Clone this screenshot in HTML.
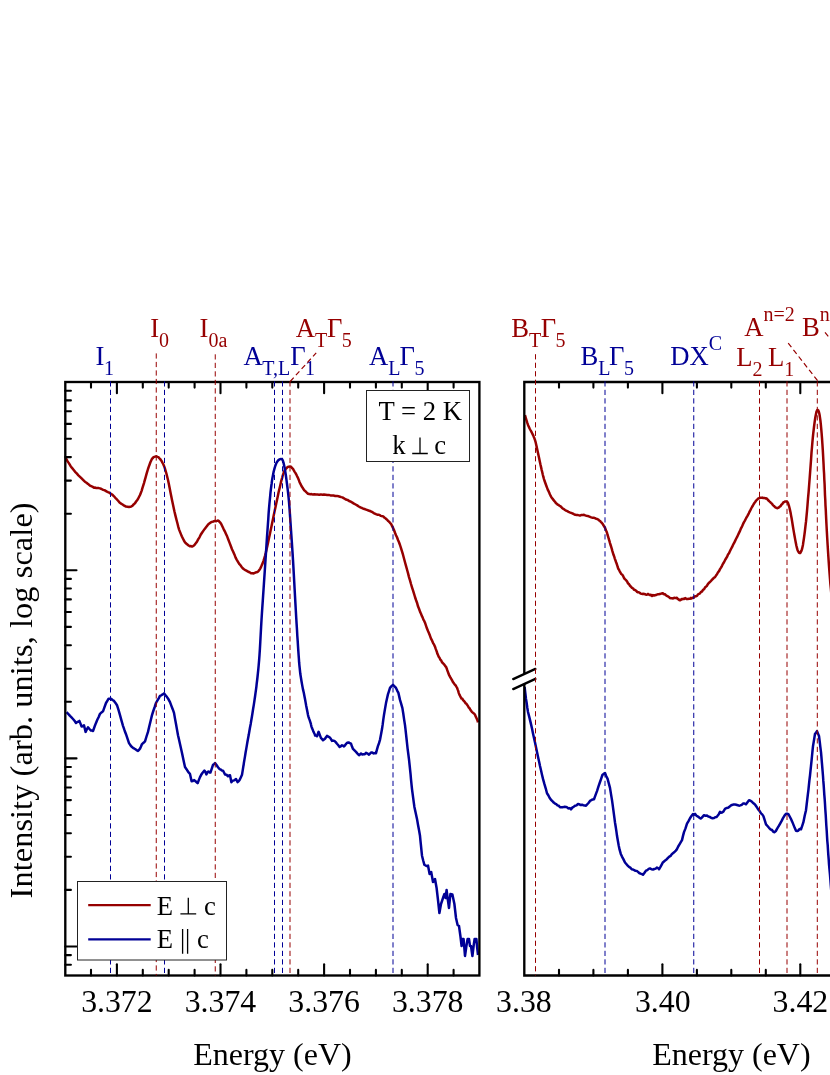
<!DOCTYPE html>
<html><head><meta charset="utf-8"><title>PL spectra</title>
<style>html,body{margin:0;padding:0;background:#fff;}svg{display:block;will-change:transform;}text{font-family:"Liberation Serif",serif;}</style></head><body>
<svg width="830" height="1075" viewBox="0 0 830 1075">
<rect width="830" height="1075" fill="#fff"/>
<g fill="none" stroke-width="2.5" stroke-linejoin="round" stroke-linecap="butt">
<polyline stroke="#960000" points="65.6,457.9 66.4,459.2 67.6,461.4 69.0,463.4 70.5,465.9 72.0,467.9 73.5,469.7 75.1,471.8 76.7,473.4 78.4,475.3 80.0,476.8 81.6,478.4 83.3,480.1 84.9,481.7 86.5,482.7 88.0,483.9 89.3,485.0 90.5,485.9 91.7,486.4 92.8,486.9 94.0,487.7 95.2,487.5 96.3,488.1 97.5,487.9 98.7,488.1 100.0,488.4 101.5,489.0 103.2,489.9 104.8,490.3 106.5,491.3 108.0,492.1 109.3,492.7 110.5,493.6 111.6,494.2 112.8,495.1 114.0,496.3 115.3,497.8 116.7,499.2 118.1,500.8 119.5,502.4 121.0,503.6 122.6,504.5 124.2,505.7 125.9,506.5 127.5,506.7 129.0,507.0 130.3,506.8 131.6,506.3 132.8,505.4 133.9,504.1 135.0,503.2 136.1,501.5 137.1,500.2 138.1,498.8 139.1,496.8 140.0,495.0 140.9,492.7 141.7,490.6 142.4,488.2 143.2,485.6 144.0,483.1 144.8,480.2 145.6,477.4 146.4,474.4 147.2,471.6 148.0,469.0 148.8,466.7 149.6,464.5 150.4,462.3 151.2,460.5 152.0,458.8 152.8,458.0 153.6,457.2 154.4,456.9 155.2,456.6 156.0,456.3 156.8,456.5 157.6,456.9 158.4,457.2 159.2,458.1 160.0,458.9 160.8,459.9 161.6,461.0 162.4,462.6 163.2,464.0 164.0,465.9 164.8,468.2 165.6,470.9 166.4,473.5 167.2,476.7 168.0,480.0 168.8,483.7 169.6,487.7 170.4,491.9 171.2,496.0 172.0,500.0 172.8,503.8 173.6,507.6 174.4,511.3 175.2,514.6 176.0,517.9 176.8,521.0 177.6,524.0 178.3,526.9 179.1,529.6 180.0,531.9 180.9,534.1 181.9,536.5 182.9,538.5 183.9,540.5 185.0,542.3 186.2,543.5 187.4,544.5 188.6,545.5 189.8,546.2 191.0,546.1 192.0,546.6 193.0,546.1 194.0,545.4 195.0,544.4 196.0,542.9 197.1,541.4 198.3,539.2 199.5,537.3 200.7,534.8 202.0,532.8 203.3,530.9 204.7,528.9 206.2,527.0 207.6,525.2 209.0,523.7 210.4,522.7 211.9,521.9 213.4,521.5 214.8,520.9 216.0,521.2 217.0,520.9 217.7,520.5 218.4,520.7 219.1,521.3 220.0,522.3 221.1,523.8 222.3,526.3 223.5,528.8 224.8,531.3 226.0,534.0 227.2,536.6 228.4,539.7 229.6,542.9 230.8,546.0 232.0,549.2 233.2,551.7 234.4,554.4 235.6,557.6 236.8,559.8 238.0,561.8 239.2,563.9 240.4,565.1 241.5,566.7 242.7,568.2 244.0,569.3 245.4,570.2 246.8,570.9 248.2,571.8 249.6,572.3 251.0,573.2 252.3,573.2 253.6,573.4 254.8,572.8 255.9,572.3 257.0,572.2 257.9,571.7 258.7,570.8 259.5,569.8 260.2,568.6 261.0,567.1 261.8,565.1 262.6,563.4 263.4,561.1 264.2,558.5 265.0,555.8 265.8,552.8 266.6,549.3 267.4,545.7 268.2,541.9 269.0,538.0 269.8,534.4 270.6,530.6 271.4,526.8 272.2,522.8 273.0,518.9 273.8,515.1 274.6,511.3 275.4,507.4 276.2,503.8 277.0,500.1 277.8,496.3 278.6,492.3 279.5,488.6 280.3,485.2 281.0,481.9 281.7,479.4 282.3,477.3 282.8,475.3 283.4,473.6 284.0,472.0 284.6,470.6 285.2,469.8 285.8,468.8 286.4,468.3 287.0,467.8 287.6,467.1 288.2,466.7 288.8,466.8 289.4,466.6 290.0,466.4 290.6,466.6 291.2,466.9 291.7,467.7 292.3,468.3 293.0,468.9 293.7,470.2 294.5,471.6 295.4,472.9 296.2,474.3 297.0,476.0 297.8,477.6 298.6,479.4 299.4,481.7 300.2,483.4 301.0,485.0 301.8,486.6 302.6,487.7 303.4,489.1 304.2,490.2 305.0,490.9 305.8,491.7 306.5,492.4 307.2,493.0 308.0,493.7 309.0,493.9 310.2,494.2 311.5,494.1 313.0,494.6 314.5,494.3 316.0,494.4 317.5,494.5 319.1,494.7 320.8,494.4 322.4,494.8 324.0,494.6 325.6,494.8 327.2,495.0 328.8,494.9 330.4,495.4 332.0,495.4 333.6,495.5 335.3,496.1 336.9,495.9 338.5,496.3 340.0,496.7 341.3,497.1 342.4,497.4 343.6,498.1 344.7,498.8 346.0,499.6 347.5,499.9 349.1,501.0 350.7,501.7 352.4,502.6 354.0,503.7 355.6,504.5 357.2,505.4 358.8,506.5 360.4,507.4 362.0,508.0 363.6,508.8 365.3,509.3 366.9,509.9 368.5,510.5 370.0,511.0 371.3,511.6 372.5,512.2 373.7,513.1 374.8,513.6 376.0,514.2 377.2,514.7 378.5,514.7 379.7,515.2 380.9,515.8 382.0,516.2 382.9,516.3 383.7,516.8 384.4,517.6 385.2,518.0 386.0,518.9 386.9,519.5 387.9,520.7 389.0,521.6 390.0,522.8 391.0,523.8 392.0,525.9 393.0,527.9 394.0,530.0 395.0,532.7 396.0,535.2 397.0,537.3 398.0,540.0 399.0,542.3 400.0,545.0 401.0,548.2 402.0,551.4 403.0,554.7 404.0,558.5 405.0,562.3 406.0,565.9 407.0,569.5 408.0,573.2 409.0,577.1 410.0,580.3 411.0,584.0 412.0,587.3 413.0,590.4 414.0,593.7 415.0,597.0 416.0,600.0 417.0,602.7 418.0,606.3 419.1,609.0 420.1,611.9 421.0,613.7 421.8,615.9 422.6,617.4 423.4,619.6 424.2,620.9 425.0,622.7 425.9,625.3 426.9,628.3 428.0,631.0 429.0,633.3 430.0,635.8 431.0,638.7 432.1,640.7 433.1,643.1 434.1,644.7 435.0,646.7 435.7,648.9 436.3,650.4 436.8,651.7 437.4,653.8 438.0,655.1 438.7,656.7 439.5,657.7 440.4,659.7 441.2,660.4 442.0,662.3 442.8,663.0 443.6,663.9 444.5,664.9 445.3,666.2 446.0,666.8 446.6,668.2 447.2,670.0 447.8,671.6 448.4,673.2 449.0,674.8 449.7,676.1 450.5,677.7 451.4,679.2 452.2,680.5 453.0,682.2 453.8,683.1 454.6,684.4 455.5,685.2 456.3,686.6 457.0,687.6 457.6,689.4 458.2,690.9 458.8,693.1 459.4,694.6 460.0,695.8 460.7,697.2 461.5,698.6 462.4,698.8 463.2,700.3 464.0,700.9 464.8,702.0 465.6,703.2 466.4,703.8 467.2,704.9 468.0,706.2 468.8,707.6 469.6,708.3 470.5,710.0 471.3,711.1 472.0,712.1 472.7,712.6 473.3,713.1 473.8,713.3 474.4,713.9 475.0,714.7 475.6,716.4 476.3,717.7 477.0,719.3 477.6,720.7 478.0,722.4"/>
<polyline stroke="#000096" points="66.6,712.2 67.7,713.4 68.9,714.6 70.0,715.9 71.5,717.4 73.0,719.0 74.5,720.8 76.0,723.0 77.1,722.1 78.3,721.7 79.4,720.9 80.5,723.6 81.6,726.5 82.8,726.3 84.0,725.3 85.6,731.9 86.8,729.4 88.0,727.3 89.5,729.0 91.0,730.6 92.0,730.6 93.0,731.0 94.5,726.8 96.0,722.9 97.3,719.8 98.7,717.0 100.0,713.8 101.5,712.4 103.0,711.3 104.5,707.1 106.0,703.0 107.3,700.8 108.6,698.7 109.8,698.7 111.0,698.7 112.5,700.0 114.0,700.9 115.5,702.9 117.0,705.2 118.5,709.9 120.0,715.1 121.5,720.6 123.0,725.8 124.5,730.2 126.0,734.2 127.5,738.6 129.0,743.1 130.5,745.4 132.0,747.1 133.5,748.2 135.0,749.0 136.5,750.1 138.0,750.9 139.0,749.8 140.0,748.7 141.0,746.5 142.0,744.1 143.5,742.8 145.0,741.3 146.5,736.5 148.0,731.9 149.3,726.3 150.7,720.5 152.0,715.1 153.3,711.0 154.7,707.0 156.0,703.0 157.3,700.7 158.7,698.3 160.0,695.8 161.3,695.3 162.7,694.4 164.0,693.4 165.5,695.2 167.0,697.1 168.5,699.3 170.0,702.1 171.3,705.6 172.7,709.2 174.0,712.9 175.0,718.6 176.0,723.9 177.0,729.6 178.0,735.2 179.0,739.5 180.0,744.0 181.0,748.5 182.0,753.1 183.0,757.8 184.0,762.4 185.0,767.1 186.5,769.2 188.0,771.7 189.0,772.8 190.0,774.1 191.6,781.3 192.8,781.1 194.0,780.1 195.2,781.0 196.4,782.0 197.6,783.2 198.8,780.1 200.0,777.1 201.2,774.8 202.4,773.0 203.4,771.8 204.4,770.6 205.4,772.0 206.4,774.4 207.4,772.3 208.4,771.5 209.4,772.4 210.4,772.6 211.7,768.8 213.0,764.8 214.0,764.2 215.0,763.0 216.5,765.0 218.0,767.2 219.5,769.1 221.0,769.7 222.0,770.6 223.0,770.7 224.0,772.5 225.0,774.4 226.5,774.7 228.0,776.3 229.0,775.5 230.0,775.3 231.4,782.2 232.7,780.7 234.0,780.4 235.0,779.7 236.0,779.0 237.6,782.1 238.6,781.3 239.6,780.0 240.8,777.4 242.0,774.8 242.8,769.9 243.6,764.8 243.6,765.3 243.9,762.7 244.4,759.9 245.0,756.4 245.6,752.5 246.2,749.1 246.8,745.6 247.4,742.0 248.1,738.2 248.8,734.6 249.4,731.0 250.0,727.5 250.7,723.9 251.3,720.3 251.9,716.7 252.5,713.0 253.1,709.0 253.8,704.9 254.4,700.9 255.0,696.7 255.5,693.1 256.0,689.6 256.4,686.6 256.7,683.6 257.1,680.5 257.5,677.0 257.9,673.2 258.3,669.3 258.7,665.0 259.1,660.3 259.5,655.0 259.9,648.8 260.3,641.7 260.7,634.3 261.1,626.9 261.5,620.0 261.9,613.7 262.3,607.6 262.7,601.8 263.1,595.9 263.5,590.0 263.9,584.0 264.3,578.0 264.7,572.0 265.1,566.0 265.5,560.0 265.9,553.9 266.3,547.8 266.7,541.7 267.1,535.7 267.5,530.0 267.9,524.4 268.3,518.9 268.6,513.6 269.0,508.6 269.4,504.0 269.8,499.8 270.2,495.9 270.5,492.4 270.9,489.1 271.3,486.0 271.7,483.2 272.0,480.6 272.4,478.3 272.8,476.1 273.2,474.0 273.6,471.9 274.1,470.0 274.6,468.1 275.1,466.5 275.6,465.0 276.1,463.8 276.5,462.8 277.0,461.9 277.5,461.2 278.0,460.6 278.6,460.0 279.2,459.6 279.8,459.2 280.5,459.1 281.0,459.0 281.5,459.1 281.9,459.2 282.2,459.5 282.6,460.1 283.0,461.0 283.4,462.3 283.8,463.9 284.2,465.7 284.6,467.8 285.0,470.0 285.4,472.4 285.8,475.0 286.2,477.9 286.6,480.9 287.0,484.0 287.4,487.2 287.8,490.4 288.2,493.9 288.6,497.7 289.0,502.0 289.4,506.9 289.8,512.4 290.2,518.2 290.6,524.1 291.0,530.0 291.4,535.8 291.8,541.6 292.2,547.5 292.6,553.6 293.0,560.0 293.4,566.9 293.8,574.1 294.2,581.5 294.6,588.8 295.0,596.0 295.4,603.1 295.8,610.2 296.2,617.2 296.6,623.8 297.0,630.0 297.3,635.7 297.7,641.1 298.0,646.1 298.3,650.7 298.6,655.0 298.9,658.8 299.1,662.2 299.4,665.3 299.7,668.1 300.0,671.0 300.3,673.8 300.7,676.3 301.1,678.8 301.5,681.3 302.0,684.1 302.5,686.9 303.1,689.9 303.8,692.8 304.4,695.9 305.0,699.0 305.6,702.4 306.2,705.8 306.9,709.2 307.5,712.3 308.0,715.0 308.5,716.9 308.9,718.0 309.2,718.9 309.6,719.9 310.0,721.1 310.4,722.3 310.8,723.6 311.1,725.1 311.5,726.6 312.0,728.1 312.6,729.4 313.3,731.2 314.0,732.8 314.6,734.0 315.0,734.8 315.0,735.4 316.0,735.4 317.0,736.2 318.6,731.8 319.8,734.9 321.0,738.1 322.0,738.9 323.0,740.3 324.0,739.5 325.0,738.8 326.0,737.3 327.0,735.9 328.3,736.6 329.6,737.3 330.8,738.8 332.0,740.9 333.2,740.6 334.4,740.9 335.7,742.1 337.0,743.7 338.3,745.2 339.6,746.9 340.8,746.3 342.0,745.3 343.0,745.7 344.0,746.4 345.0,745.3 346.0,743.9 347.3,742.8 348.6,742.4 349.8,743.2 351.0,743.7 352.0,746.6 353.0,748.9 354.5,750.4 356.0,751.9 357.5,753.6 359.0,755.2 360.0,754.4 361.0,753.5 362.3,754.5 363.6,754.3 364.8,754.2 366.0,752.7 367.5,753.6 369.0,754.7 370.0,753.7 371.0,752.5 372.3,752.6 373.6,753.4 374.8,753.1 376.0,753.3 377.0,749.4 378.0,745.9 379.0,743.2 380.0,739.8 381.0,734.5 382.0,729.1 382.7,724.4 383.3,719.6 384.0,714.9 385.0,708.9 386.0,703.1 387.0,698.4 388.0,694.1 389.0,691.1 390.0,687.9 391.5,686.2 393.0,684.8 394.5,686.3 396.0,687.9 397.2,690.6 398.4,692.9 400.0,699.9 401.2,703.8 402.4,708.1 403.3,713.8 404.1,719.4 405.0,725.1 405.5,729.4 406.0,733.9 406.5,738.5 407.0,743.1 407.6,748.6 408.3,754.0 409.0,759.4 409.6,765.0 410.1,769.8 410.6,774.7 411.0,779.3 411.5,784.3 412.0,789.1 412.6,793.6 413.2,798.1 413.8,802.6 414.4,806.9 415.7,812.9 417.0,818.9 418.0,824.8 419.0,830.1 420.0,835.8 420.5,841.1 421.0,845.9 421.5,850.8 422.0,855.7 423.2,860.5 424.4,864.8 426.4,866.0 428.0,865.6 429.6,874.0 431.2,872.0 433.0,882.0 435.0,879.0 436.6,888.0 438.0,900.0 439.4,913.0 441.0,904.0 443.0,898.0 444.4,894.0 445.6,898.0 446.6,890.0 447.6,898.0 449.0,908.0 450.4,894.0 452.4,894.4 454.4,904.0 456.0,918.0 457.6,925.0 459.0,926.0 460.4,936.0 461.6,946.0 462.4,939.0 463.6,939.0 465.0,956.0 466.4,946.0 467.6,939.0 469.0,939.0 470.0,946.0 471.0,946.0 472.4,956.0 473.6,946.0 474.6,939.0 476.4,939.0 477.0,946.0 478.0,955.0"/>
<polyline stroke="#960000" points="525.0,415.2 525.4,416.5 525.9,418.5 526.6,420.6 527.3,422.9 528.0,424.9 528.8,426.7 529.6,428.5 530.4,430.0 531.2,431.4 532.0,433.0 532.7,434.4 533.3,435.6 533.8,436.9 534.4,438.3 535.0,440.0 535.6,442.1 536.2,444.8 536.8,447.4 537.4,450.3 538.0,453.0 538.6,455.8 539.2,458.6 539.8,461.4 540.4,464.3 541.0,466.9 541.6,469.6 542.2,472.0 542.7,474.3 543.3,476.7 544.0,479.1 544.7,481.3 545.5,483.5 546.4,486.0 547.2,488.1 548.0,490.2 548.8,491.7 549.6,493.6 550.4,495.3 551.2,496.8 552.0,498.2 552.8,499.0 553.6,500.2 554.4,501.1 555.2,502.0 556.0,503.2 556.8,503.7 557.6,504.5 558.3,504.8 559.1,505.5 560.0,506.0 560.9,506.6 561.9,507.7 562.9,508.6 563.9,509.1 565.0,510.0 566.1,510.7 567.3,511.2 568.5,511.8 569.7,512.3 571.0,512.8 572.4,513.4 573.8,514.2 575.2,514.8 576.6,514.9 578.0,515.1 579.3,515.4 580.5,515.4 581.6,514.9 582.8,514.9 584.0,514.8 585.2,515.4 586.4,515.7 587.6,515.9 588.8,516.4 590.0,516.9 591.2,517.4 592.5,517.7 593.7,517.7 594.9,518.1 596.0,518.7 596.9,518.9 597.7,519.3 598.5,519.7 599.2,520.6 600.0,520.9 600.8,521.8 601.6,522.6 602.5,523.7 603.3,525.0 604.0,526.2 604.7,527.2 605.3,528.4 605.8,530.0 606.4,531.3 607.0,532.8 607.6,535.0 608.2,536.8 608.8,539.0 609.4,540.9 610.0,543.1 610.6,545.0 611.2,546.9 611.8,548.9 612.4,551.1 613.0,553.1 613.6,555.1 614.2,556.5 614.8,558.6 615.4,560.2 616.0,562.0 616.6,563.5 617.2,565.3 617.7,567.0 618.3,568.8 619.0,569.8 619.7,571.3 620.5,572.7 621.3,574.0 622.1,574.5 623.0,575.7 623.9,577.7 624.9,579.2 626.0,580.2 627.0,581.3 628.0,583.4 629.0,584.1 630.0,585.8 631.0,586.7 632.0,587.9 633.0,588.3 634.0,589.7 635.0,589.9 636.1,590.7 637.1,591.8 638.0,592.3 638.8,592.2 639.6,592.7 640.3,593.3 641.1,593.7 642.0,593.9 643.1,593.7 644.3,593.9 645.6,594.5 646.8,594.8 648.0,593.9 649.1,594.7 650.1,595.2 651.0,594.7 652.0,595.9 653.0,595.1 654.0,595.6 655.0,595.3 656.1,595.1 657.1,594.4 658.0,594.3 658.9,594.3 659.7,593.9 660.4,593.9 661.2,593.6 662.0,593.5 662.8,593.2 663.6,594.0 664.3,594.2 665.1,594.3 666.0,595.3 666.9,595.9 667.9,596.4 669.0,597.0 670.0,598.1 671.0,598.2 672.0,598.3 673.0,598.5 674.1,597.8 675.1,598.0 676.0,598.0 676.9,597.8 677.7,598.9 678.4,598.9 679.2,600.0 680.0,600.3 680.8,599.9 681.5,599.1 682.3,599.2 683.1,598.7 684.0,599.1 685.1,598.1 686.4,598.9 687.6,599.1 688.9,598.8 690.0,598.8 690.9,597.9 691.7,598.5 692.4,597.7 693.2,597.9 694.0,597.4 694.9,596.2 695.9,596.3 697.0,595.9 698.0,594.3 699.0,593.9 700.0,593.4 701.0,591.9 702.0,591.5 703.0,589.9 704.0,589.3 705.0,587.5 706.0,586.6 707.0,585.7 708.0,583.9 709.0,582.8 710.0,582.0 711.0,580.9 712.0,579.7 713.0,578.8 714.0,577.7 715.0,577.1 716.0,575.6 717.0,574.3 718.0,572.3 719.0,571.2 720.0,569.1 721.0,567.6 722.0,565.8 723.0,563.7 724.0,562.2 725.0,560.2 726.0,558.5 727.0,556.9 728.0,554.6 729.0,553.3 730.0,551.1 731.0,549.0 732.0,547.2 733.0,544.9 734.0,543.2 735.0,541.1 736.0,539.0 737.0,537.2 738.0,535.0 739.0,532.9 740.0,530.9 741.0,528.3 742.1,526.3 743.1,523.9 744.0,522.1 744.9,520.6 745.7,519.0 746.4,517.7 747.2,516.3 748.0,514.8 748.8,513.3 749.6,511.6 750.4,510.1 751.2,508.5 752.0,507.0 752.8,505.8 753.6,504.2 754.4,503.0 755.2,502.0 756.0,500.8 756.7,500.0 757.4,499.4 758.1,498.7 758.8,498.3 759.6,497.9 760.5,497.8 761.4,497.8 762.3,497.6 763.2,498.0 764.0,498.0 764.7,497.9 765.3,498.4 765.8,498.2 766.4,498.4 767.0,498.8 767.7,499.7 768.5,500.5 769.4,501.4 770.2,502.1 771.0,502.9 771.8,503.6 772.7,504.8 773.5,505.6 774.3,506.3 775.0,507.1 775.6,507.4 776.2,507.9 776.6,508.0 777.1,507.9 777.6,508.2 778.1,507.7 778.5,507.7 779.0,507.4 779.5,506.9 780.0,506.4 780.6,506.1 781.2,505.0 781.8,504.4 782.4,503.8 783.0,502.8 783.6,502.3 784.2,502.1 784.8,501.6 785.4,501.5 786.0,501.6 786.5,501.4 787.0,501.6 787.5,502.1 787.9,502.7 788.4,504.1 788.9,505.6 789.4,507.5 789.9,509.6 790.5,512.3 791.0,515.1 791.6,518.2 792.2,521.9 792.8,525.7 793.4,529.4 794.0,532.9 794.6,536.3 795.2,539.6 795.8,542.8 796.4,545.8 797.0,548.1 797.5,549.9 798.1,551.3 798.6,552.0 799.1,552.8 799.6,553.0 800.1,553.1 800.6,552.5 801.0,551.6 801.5,550.6 802.0,549.2 802.5,546.9 803.0,544.7 803.4,541.7 803.9,538.5 804.4,534.9 804.9,531.0 805.4,526.6 806.0,521.7 806.5,516.4 807.0,511.1 807.5,505.1 808.0,498.7 808.6,492.2 809.1,485.5 809.6,479.0 810.1,472.4 810.6,465.7 811.1,458.9 811.5,452.7 812.0,447.0 812.4,442.2 812.8,437.8 813.2,433.9 813.6,430.4 814.0,427.0 814.4,423.8 814.8,420.9 815.2,418.1 815.6,416.0 816.0,413.9 816.3,412.4 816.6,411.2 817.0,410.6 817.3,410.0 817.6,409.9 818.0,410.1 818.4,410.6 818.8,411.7 819.2,413.1 819.6,415.0 820.0,417.6 820.4,420.5 820.8,424.2 821.2,428.3 821.6,433.0 822.0,438.2 822.4,444.0 822.8,450.2 823.2,457.3 823.4,461.1 823.6,465.0 823.8,469.5 824.1,474.0 824.3,479.2 824.6,484.3 824.8,489.8 825.0,495.2 825.3,500.4 825.5,505.6 825.8,510.3 826.0,515.0 826.2,519.1 826.4,523.2 826.6,527.0 826.8,530.8 827.2,537.8 827.6,544.5 828.0,550.9 828.4,557.2 828.8,563.1 829.2,568.7 829.6,573.9 830.0,579.0 830.4,584.1 830.9,588.9 831.3,593.6 831.7,597.3 832.0,599.4"/>
<polyline stroke="#000096" points="524.6,687.0 525.3,693.0 526.0,699.0 526.7,703.3 527.3,707.7 528.0,712.0 529.5,717.9 531.0,724.1 532.0,728.6 533.0,733.4 534.0,737.9 535.0,742.5 536.0,747.2 537.0,752.1 538.0,756.8 539.0,761.2 540.0,766.0 541.0,770.3 542.0,774.8 543.0,778.9 544.3,783.7 545.7,788.3 547.0,793.2 548.3,795.2 549.7,798.0 551.0,799.8 552.3,801.0 553.7,802.6 555.0,803.6 556.2,804.1 557.5,805.4 558.8,805.8 560.0,807.3 561.2,807.2 562.4,807.3 563.6,807.1 564.8,806.8 566.0,806.9 567.2,807.4 568.5,808.4 569.8,808.1 571.0,809.4 572.3,807.6 573.7,806.7 575.0,805.8 576.5,805.4 578.0,804.0 579.3,804.2 580.7,805.1 582.0,804.7 583.3,805.2 584.7,805.4 586.0,805.8 587.3,804.3 588.7,802.7 590.0,800.9 591.3,800.2 592.7,799.4 594.0,799.2 595.5,795.1 597.0,791.1 598.5,786.3 600.0,782.0 601.2,778.6 602.4,775.0 603.7,773.8 605.0,773.0 606.3,776.2 607.6,778.9 608.8,783.4 610.0,787.9 611.0,794.1 612.0,800.1 612.6,804.4 613.2,808.9 613.8,813.4 614.4,817.9 615.0,822.5 615.7,826.8 616.4,831.4 617.0,835.8 617.9,841.0 618.7,845.5 619.6,849.7 620.8,853.9 622.0,856.6 623.5,859.4 625.0,862.5 626.3,864.0 627.7,865.6 629.0,866.9 630.3,867.6 631.7,869.2 633.0,869.5 634.2,870.1 635.5,870.8 636.8,870.9 638.0,871.9 639.2,873.0 640.5,873.6 641.8,874.0 643.0,874.8 644.5,872.8 646.0,870.6 647.3,870.1 648.7,868.9 650.0,868.4 651.5,869.3 653.0,869.5 654.3,869.0 655.7,868.6 657.0,867.5 658.0,868.0 659.0,869.3 660.3,867.1 661.7,864.6 663.0,862.2 664.2,861.4 665.5,860.2 666.8,859.2 668.0,857.9 669.3,856.6 670.7,855.8 672.0,853.9 673.2,853.0 674.5,852.0 675.8,850.6 677.0,849.1 678.2,846.5 679.5,844.4 680.8,842.2 682.0,840.1 683.0,835.9 684.0,832.1 685.5,828.4 687.0,823.7 688.5,821.1 690.0,818.2 691.5,815.9 693.0,814.0 694.0,814.7 695.0,813.9 696.5,815.7 698.0,816.6 699.5,817.8 701.0,818.5 702.5,816.8 704.0,815.2 705.5,815.7 707.0,815.6 708.3,816.5 709.7,816.9 711.0,817.8 712.5,818.2 714.0,818.0 715.2,817.2 716.4,817.1 717.6,815.7 718.8,814.2 720.0,811.9 721.0,812.8 722.0,812.6 723.5,811.4 725.0,808.9 726.5,808.0 728.0,807.8 729.3,806.9 730.7,805.6 732.0,804.9 733.5,804.6 735.0,804.6 736.3,804.8 737.7,805.2 739.0,805.7 740.3,805.4 741.7,804.8 743.0,803.6 744.5,803.5 746.0,804.3 747.5,802.2 749.0,800.3 750.5,800.7 752.0,801.8 753.5,803.3 755.0,804.5 756.5,806.7 758.0,809.1 759.5,810.8 761.0,813.4 762.2,814.4 763.4,816.1 764.7,820.2 766.0,824.3 767.5,826.0 769.0,827.8 770.5,829.3 772.0,830.0 773.3,831.8 774.6,832.2 775.8,831.1 777.0,828.8 778.5,826.4 780.0,823.8 781.5,821.1 783.0,818.1 784.5,815.6 786.0,813.8 787.2,813.8 788.4,814.2 789.7,816.5 791.0,819.0 792.3,821.9 793.6,825.1 794.8,828.1 796.0,830.8 797.2,831.0 798.4,830.5 799.7,828.9 801.0,829.3 802.2,825.8 803.4,822.2 804.7,815.8 806.0,810.2 806.6,805.0 807.2,799.8 807.8,794.8 808.4,790.1 808.9,785.2 809.4,780.3 810.0,775.5 810.5,770.7 811.0,765.9 811.5,761.1 812.0,756.0 812.5,750.9 813.0,746.1 814.0,740.1 815.0,733.9 816.0,732.7 817.0,731.1 818.0,733.6 819.0,736.0 819.7,741.4 820.3,746.7 821.0,752.1 821.4,756.7 821.8,761.6 822.2,766.4 822.6,771.2 823.0,776.0 823.3,780.7 823.7,785.3 824.0,790.0 824.3,794.6 824.7,799.3 825.0,804.0 825.3,809.2 825.7,814.7 826.0,819.9 826.3,825.3 826.7,830.7 827.0,836.0 827.3,840.8 827.7,845.2 828.0,850.1 828.3,854.7 828.7,859.4 829.0,864.1 829.5,869.6 830.0,875.0 830.4,880.0 830.8,885.2 831.2,889.8 831.6,895.0 832.0,900.2"/>
</g>
<rect x="479.4" y="382.0" width="44.89999999999998" height="593.5" fill="#fff"/>
<g stroke="#000" stroke-width="2.35" fill="none" stroke-linecap="square">
<rect x="65.3" y="382.0" width="414.09999999999997" height="593.5"/>
<path d="M835,382.0 H524.3 V975.5 H835"/>
</g>
<g stroke="#000" stroke-width="2.1" stroke-linecap="round">
<line x1="65.3" y1="946.5" x2="76.5" y2="946.5"/>
<line x1="65.3" y1="889.9" x2="70.89999999999999" y2="889.9"/>
<line x1="65.3" y1="856.8" x2="70.89999999999999" y2="856.8"/>
<line x1="65.3" y1="833.3" x2="70.89999999999999" y2="833.3"/>
<line x1="65.3" y1="815.0" x2="70.89999999999999" y2="815.0"/>
<line x1="65.3" y1="800.1" x2="70.89999999999999" y2="800.1"/>
<line x1="65.3" y1="787.5" x2="70.89999999999999" y2="787.5"/>
<line x1="65.3" y1="776.6" x2="70.89999999999999" y2="776.6"/>
<line x1="65.3" y1="767.0" x2="70.89999999999999" y2="767.0"/>
<line x1="65.3" y1="758.4" x2="76.5" y2="758.4"/>
<line x1="65.3" y1="701.8" x2="70.89999999999999" y2="701.8"/>
<line x1="65.3" y1="668.7" x2="70.89999999999999" y2="668.7"/>
<line x1="65.3" y1="645.2" x2="70.89999999999999" y2="645.2"/>
<line x1="65.3" y1="626.9" x2="70.89999999999999" y2="626.9"/>
<line x1="65.3" y1="612.0" x2="70.89999999999999" y2="612.0"/>
<line x1="65.3" y1="599.4" x2="70.89999999999999" y2="599.4"/>
<line x1="65.3" y1="588.5" x2="70.89999999999999" y2="588.5"/>
<line x1="65.3" y1="578.9" x2="70.89999999999999" y2="578.9"/>
<line x1="65.3" y1="570.3" x2="76.5" y2="570.3"/>
<line x1="65.3" y1="513.7" x2="70.89999999999999" y2="513.7"/>
<line x1="65.3" y1="480.6" x2="70.89999999999999" y2="480.6"/>
<line x1="65.3" y1="457.1" x2="70.89999999999999" y2="457.1"/>
<line x1="65.3" y1="438.8" x2="70.89999999999999" y2="438.8"/>
<line x1="65.3" y1="423.9" x2="70.89999999999999" y2="423.9"/>
<line x1="65.3" y1="411.3" x2="70.89999999999999" y2="411.3"/>
<line x1="65.3" y1="400.4" x2="70.89999999999999" y2="400.4"/>
<line x1="65.3" y1="390.8" x2="70.89999999999999" y2="390.8"/>
<line x1="65.3" y1="964.7" x2="70.89999999999999" y2="964.7"/>
<line x1="65.3" y1="955.1" x2="70.89999999999999" y2="955.1"/>
<line x1="91.0" y1="382.0" x2="91.0" y2="387.6"/>
<line x1="91.0" y1="975.5" x2="91.0" y2="969.9"/>
<line x1="116.9" y1="382.0" x2="116.9" y2="393.2"/>
<line x1="116.9" y1="975.5" x2="116.9" y2="964.3"/>
<line x1="142.8" y1="382.0" x2="142.8" y2="387.6"/>
<line x1="142.8" y1="975.5" x2="142.8" y2="969.9"/>
<line x1="168.7" y1="382.0" x2="168.7" y2="387.6"/>
<line x1="168.7" y1="975.5" x2="168.7" y2="969.9"/>
<line x1="194.6" y1="382.0" x2="194.6" y2="387.6"/>
<line x1="194.6" y1="975.5" x2="194.6" y2="969.9"/>
<line x1="220.5" y1="382.0" x2="220.5" y2="393.2"/>
<line x1="220.5" y1="975.5" x2="220.5" y2="964.3"/>
<line x1="246.4" y1="382.0" x2="246.4" y2="387.6"/>
<line x1="246.4" y1="975.5" x2="246.4" y2="969.9"/>
<line x1="272.3" y1="382.0" x2="272.3" y2="387.6"/>
<line x1="272.3" y1="975.5" x2="272.3" y2="969.9"/>
<line x1="298.2" y1="382.0" x2="298.2" y2="387.6"/>
<line x1="298.2" y1="975.5" x2="298.2" y2="969.9"/>
<line x1="324.1" y1="382.0" x2="324.1" y2="393.2"/>
<line x1="324.1" y1="975.5" x2="324.1" y2="964.3"/>
<line x1="350.0" y1="382.0" x2="350.0" y2="387.6"/>
<line x1="350.0" y1="975.5" x2="350.0" y2="969.9"/>
<line x1="375.9" y1="382.0" x2="375.9" y2="387.6"/>
<line x1="375.9" y1="975.5" x2="375.9" y2="969.9"/>
<line x1="401.8" y1="382.0" x2="401.8" y2="387.6"/>
<line x1="401.8" y1="975.5" x2="401.8" y2="969.9"/>
<line x1="427.7" y1="382.0" x2="427.7" y2="393.2"/>
<line x1="427.7" y1="975.5" x2="427.7" y2="964.3"/>
<line x1="453.6" y1="382.0" x2="453.6" y2="387.6"/>
<line x1="453.6" y1="975.5" x2="453.6" y2="969.9"/>
<line x1="559.0" y1="382.0" x2="559.0" y2="387.6"/>
<line x1="559.0" y1="975.5" x2="559.0" y2="969.9"/>
<line x1="593.4" y1="382.0" x2="593.4" y2="387.6"/>
<line x1="593.4" y1="975.5" x2="593.4" y2="969.9"/>
<line x1="627.9" y1="382.0" x2="627.9" y2="387.6"/>
<line x1="627.9" y1="975.5" x2="627.9" y2="969.9"/>
<line x1="662.4" y1="382.0" x2="662.4" y2="393.2"/>
<line x1="662.4" y1="975.5" x2="662.4" y2="964.3"/>
<line x1="696.9" y1="382.0" x2="696.9" y2="387.6"/>
<line x1="696.9" y1="975.5" x2="696.9" y2="969.9"/>
<line x1="731.3" y1="382.0" x2="731.3" y2="387.6"/>
<line x1="731.3" y1="975.5" x2="731.3" y2="969.9"/>
<line x1="765.8" y1="382.0" x2="765.8" y2="387.6"/>
<line x1="765.8" y1="975.5" x2="765.8" y2="969.9"/>
<line x1="800.3" y1="382.0" x2="800.3" y2="393.2"/>
<line x1="800.3" y1="975.5" x2="800.3" y2="964.3"/>
</g>
<rect x="521.3" y="671" width="6" height="15" fill="#fff" transform="skewY(-24.6)" style="display:none"/>
<polygon points="522.3,675.2 526.3,673.4 526.3,682.6 522.3,684.4" fill="#fff"/>
<g stroke="#000" stroke-width="2.3" stroke-linecap="round">
<line x1="513.2" y1="679.1" x2="535.4" y2="668.9"/>
<line x1="513.2" y1="689.1" x2="535.4" y2="678.9"/>
</g>
<g id="dashes">
<line x1="110.5" y1="381.3" x2="110.5" y2="975.5" stroke="#000096" stroke-width="1" stroke-dasharray="5.2 3.3"/>
<line x1="156.25" y1="353.4" x2="156.25" y2="975.5" stroke="#960000" stroke-width="1" stroke-dasharray="5.2 3.3"/>
<line x1="164.5" y1="381.3" x2="164.5" y2="975.5" stroke="#000096" stroke-width="1" stroke-dasharray="5.2 3.3"/>
<line x1="215.25" y1="354.3" x2="215.25" y2="975.5" stroke="#960000" stroke-width="1" stroke-dasharray="5.2 3.3"/>
<line x1="274.5" y1="381.3" x2="274.5" y2="975.5" stroke="#000096" stroke-width="1" stroke-dasharray="5.2 3.3"/>
<line x1="282.5" y1="381.3" x2="282.5" y2="975.5" stroke="#000096" stroke-width="1" stroke-dasharray="5.2 3.3"/>
<line x1="290.0" y1="381.3" x2="290.0" y2="975.5" stroke="#960000" stroke-width="1" stroke-dasharray="5.2 3.3"/>
<line x1="393.0" y1="381.3" x2="393.0" y2="975.5" stroke="#000096" stroke-width="1" stroke-dasharray="5.2 3.3"/>
<line x1="535.5" y1="354.2" x2="535.5" y2="975.5" stroke="#960000" stroke-width="1" stroke-dasharray="5.2 3.3"/>
<line x1="605.0" y1="381.3" x2="605.0" y2="975.5" stroke="#000096" stroke-width="1" stroke-dasharray="5.2 3.3"/>
<line x1="693.75" y1="381.3" x2="693.75" y2="975.5" stroke="#000096" stroke-width="1" stroke-dasharray="5.2 3.3"/>
<line x1="759.5" y1="381.3" x2="759.5" y2="975.5" stroke="#960000" stroke-width="1" stroke-dasharray="5.2 3.3"/>
<line x1="787.0" y1="381.3" x2="787.0" y2="975.5" stroke="#960000" stroke-width="1" stroke-dasharray="5.2 3.3"/>
<line x1="817.3" y1="381.3" x2="817.3" y2="975.5" stroke="#960000" stroke-width="1" stroke-dasharray="5.2 3.3"/>
</g>
<g font-size="31.8" text-anchor="middle" fill="#000">
<text x="116.9" y="1012.3">3.372</text>
<text x="220.5" y="1012.3">3.374</text>
<text x="324.1" y="1012.3">3.376</text>
<text x="427.7" y="1012.3">3.378</text>
<text x="523.9" y="1012.3">3.38</text>
<text x="662.8" y="1012.3">3.40</text>
<text x="800.4" y="1012.3">3.42</text>
</g>
<text x="272.5" y="1064.8" font-size="32" text-anchor="middle">Energy (eV)</text>
<text x="731.4" y="1064.8" font-size="32" text-anchor="middle">Energy (eV)</text>
<text transform="translate(32,700.4) rotate(-90)" font-size="32.3" letter-spacing="0.1" text-anchor="middle">Intensity (arb. units, log scale)</text>
<rect x="366.5" y="390.5" width="103" height="71" fill="#fff" stroke="#222" stroke-width="1"/>
<text x="378.6" y="419.7" font-size="26.67">T = 2 K</text>
<text x="392.2" y="453.5" font-size="26.67">k</text>
<text x="434.2" y="453.5" font-size="26.67">c</text>
<path d="M412.2,453.5 H427.8 M420.0,453.5 V437.5" stroke="#000" stroke-width="1.3" fill="none"/>
<rect x="77.5" y="881.5" width="149" height="78.5" fill="#fff" stroke="#222" stroke-width="1"/>
<line x1="88.2" y1="905.2" x2="150.7" y2="905.2" stroke="#960000" stroke-width="2.3"/>
<line x1="88.2" y1="939.4" x2="150.7" y2="939.4" stroke="#000096" stroke-width="2.3"/>
<text x="156.8" y="914.5" font-size="26.67">E</text>
<text x="204" y="914.5" font-size="26.67">c</text>
<path d="M180.4,913.9 H196.2 M188.3,913.9 V897.7" stroke="#000" stroke-width="1.3" fill="none"/>
<text x="156.8" y="948.2" font-size="26.67">E</text>
<text x="197" y="948.2" font-size="26.67">c</text>
<path d="M182.6,929 V953.7 M187.6,929 V953.7" stroke="#000" stroke-width="1.3" fill="none"/>
<text x="95.6" y="364.8" fill="#000096" font-size="26.67"><tspan>I</tspan><tspan font-size="20" dy="10.5" dx="-0.5">1</tspan><tspan dy="-10.5" font-size="1">&#8203;</tspan></text>
<text x="150.2" y="336.6" fill="#960000" font-size="26.67"><tspan>I</tspan><tspan font-size="20" dy="10.5">0</tspan><tspan dy="-10.5" font-size="1">&#8203;</tspan></text>
<text x="199.5" y="336.6" fill="#960000" font-size="26.67"><tspan>I</tspan><tspan font-size="20" dy="10.5">0a</tspan><tspan dy="-10.5" font-size="1">&#8203;</tspan></text>
<text x="243.4" y="364.6" fill="#000096" font-size="26.67"><tspan>A</tspan><tspan font-size="20" dy="10.5" dx="-0.4">T,L</tspan><tspan dy="-10.5" font-size="1">&#8203;</tspan><tspan>&#915;</tspan><tspan font-size="20" dy="10.5" dx="-0.6">1</tspan><tspan dy="-10.5" font-size="1">&#8203;</tspan></text>
<text x="295.8" y="336.6" fill="#960000" font-size="26.67"><tspan>A</tspan><tspan font-size="20" dy="10.5">T</tspan><tspan dy="-10.5" font-size="1">&#8203;</tspan><tspan dx="-0.4">&#915;</tspan><tspan font-size="20" dy="10.5" dx="-0.6">5</tspan><tspan dy="-10.5" font-size="1">&#8203;</tspan></text>
<text x="369.0" y="364.6" fill="#000096" font-size="26.67"><tspan>A</tspan><tspan font-size="20" dy="10.5">L</tspan><tspan dy="-10.5" font-size="1">&#8203;</tspan><tspan dx="-1.0">&#915;</tspan><tspan font-size="20" dy="10.5" dx="-0.4">5</tspan><tspan dy="-10.5" font-size="1">&#8203;</tspan></text>
<text x="511.2" y="336.6" fill="#960000" font-size="26.67"><tspan>B</tspan><tspan font-size="20" dy="10.5">T</tspan><tspan dy="-10.5" font-size="1">&#8203;</tspan><tspan dx="-0.5">&#915;</tspan><tspan font-size="20" dy="10.5" dx="-0.5">5</tspan><tspan dy="-10.5" font-size="1">&#8203;</tspan></text>
<text x="580.4" y="364.6" fill="#000096" font-size="26.67"><tspan>B</tspan><tspan font-size="20" dy="10.5">L</tspan><tspan dy="-10.5" font-size="1">&#8203;</tspan><tspan dx="-1.3">&#915;</tspan><tspan font-size="20" dy="10.5" dx="-0.5">5</tspan><tspan dy="-10.5" font-size="1">&#8203;</tspan></text>
<text x="670.2" y="364.8" fill="#000096" font-size="26.67"><tspan>DX</tspan><tspan font-size="20" dy="-15">C</tspan><tspan dy="15" font-size="1">&#8203;</tspan></text>
<text x="736.2" y="365.7" fill="#960000" font-size="26.67"><tspan>L</tspan><tspan font-size="20" dy="10.5">2</tspan><tspan dy="-10.5" font-size="1">&#8203;</tspan></text>
<text x="768.0" y="365.7" fill="#960000" font-size="26.67"><tspan>L</tspan><tspan font-size="20" dy="10.5">1</tspan><tspan dy="-10.5" font-size="1">&#8203;</tspan></text>
<text x="744.3" y="335.9" fill="#960000" font-size="26.67"><tspan>A</tspan><tspan font-size="20" dy="-15">n=2</tspan><tspan dy="15" font-size="1">&#8203;</tspan></text>
<text x="802.0" y="335.9" fill="#960000" font-size="26.67"><tspan>B</tspan><tspan font-size="20" dy="-15">n=2</tspan><tspan dy="15" font-size="1">&#8203;</tspan></text>
<g stroke="#960000" stroke-width="1.2" stroke-dasharray="5.2 3.3" fill="none">
<line x1="290.2" y1="381.5" x2="316.2" y2="352.8"/>
<line x1="788.2" y1="343.1" x2="818.2" y2="381.5"/>
<line x1="825" y1="332.3" x2="836" y2="346"/>
</g>
</svg></body></html>
